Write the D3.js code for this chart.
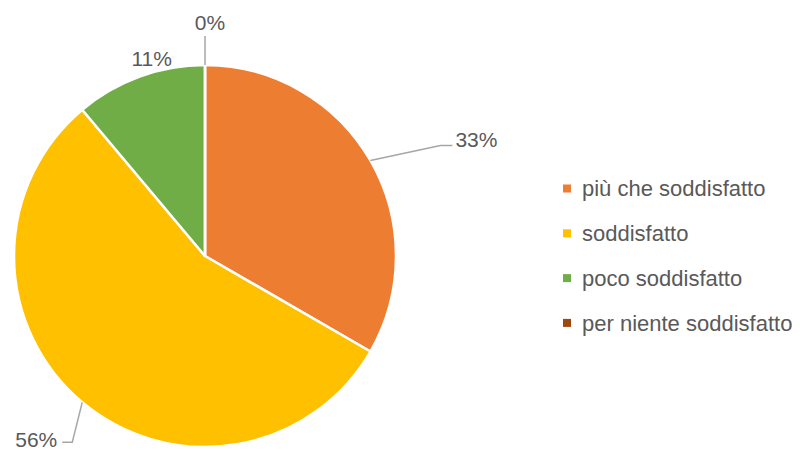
<!DOCTYPE html>
<html>
<head>
<meta charset="utf-8">
<script src="https://cdn.jsdelivr.net/npm/d3@7"></script>
<style>
  html, body { margin: 0; padding: 0; background: #fff; }
  svg { display: block; }
  text { font-family: "Liberation Sans", Arial, sans-serif; fill: #595959; }
</style>
</head>
<body>
<svg id="chart" width="800" height="450"></svg>
<script>
// Survey answers: satisfaction level and number of responses
const categories = ["più che soddisfatto", "soddisfatto", "poco soddisfatto", "per niente soddisfatto"];
const values = [3, 5, 1, 0];
const colors = ["#ED7D31", "#FFC000", "#70AD47", "#9E480E"];

const svg = d3.select("#chart");
const cx = 205, cy = 256, radius = 191;
const labelFont = 21, legendFont = 22;

const total = d3.sum(values);
const pct = d3.format(".0%");

const data = categories.map((c, i) => ({ name: c, value: values[i], color: colors[i] }));

const pie = d3.pie().value(d => d.value).sort(null).startAngle(0).endAngle(2 * Math.PI);
const arcs = pie(data);
const arc = d3.arc().innerRadius(0).outerRadius(radius);

const g = svg.append("g").attr("transform", `translate(${cx},${cy})`);

g.selectAll("path.slice")
  .data(arcs)
  .join("path")
  .attr("class", "slice")
  .attr("d", arc)
  .attr("fill", d => d.data.color)
  .attr("stroke", "#fff")
  .attr("stroke-width", 2.5)
  .attr("stroke-linejoin", "round");

// Point on the rim at the middle of a slice
function rimPoint(d) {
  const a = (d.startAngle + d.endAngle) / 2;
  return [radius * Math.sin(a), -radius * Math.cos(a)];
}

// Data label layout: leader-line bends and text offsets, relative to the rim point
const labelLayout = [
  { leader: [[70, -15], [82, -15]], text: [85, -14], anchor: "start" },
  { leader: [[-10, 40], [-20, 40]], text: [-25, 44.5], anchor: "end" },
  { leader: null, text: [12, -11], anchor: "middle" },
  { leader: [[0, -29]], text: [5, -35], anchor: "middle" }
];

const labels = g.append("g");
arcs.forEach((d, i) => {
  const p = rimPoint(d);
  const lay = labelLayout[i];
  if (lay.leader) {
    const pts = [p].concat(lay.leader.map(o => [p[0] + o[0], p[1] + o[1]]));
    labels.append("path")
      .attr("d", d3.line()(pts))
      .attr("fill", "none")
      .attr("stroke", "#A6A6A6")
      .attr("stroke-width", 1.5);
  }
  labels.append("text")
    .attr("x", p[0] + lay.text[0])
    .attr("y", p[1] + lay.text[1])
    .attr("text-anchor", lay.anchor)
    .attr("font-size", labelFont)
    .text(pct(d.data.value / total));
});

// Legend
const legendX = 563, legendY = 188.5, legendStep = 44.8, sw = 8;
const legend = svg.append("g");
const rows = legend.selectAll("g")
  .data(data)
  .join("g")
  .attr("transform", (d, i) => `translate(${legendX},${legendY + i * legendStep})`);
rows.append("rect")
  .attr("x", 0).attr("y", -sw / 2)
  .attr("width", sw).attr("height", sw)
  .attr("fill", d => d.color);
rows.append("text")
  .attr("x", 19)
  .attr("y", 0)
  .attr("dy", "0.35em")
  .attr("font-size", legendFont)
  .text(d => d.name);
</script>
</body>
</html>
